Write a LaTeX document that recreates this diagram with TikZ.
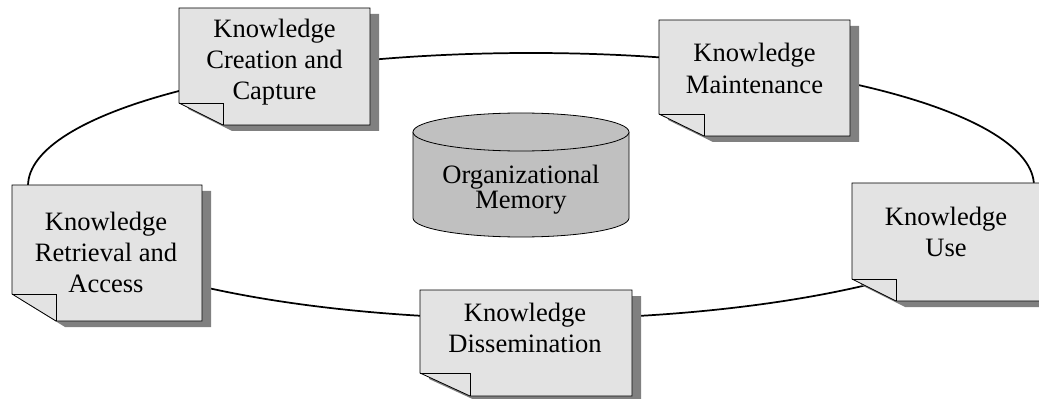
\documentclass[tikz,border=0pt]{standalone}
\usepackage{fontspec}
\setmainfont{Liberation Serif}
\usepackage{tikz}
\usepackage{amsmath}

\definecolor{sheetfill}{HTML}{E3E3E3}
\definecolor{sheetshade}{HTML}{808080}
\definecolor{drumfill}{HTML}{C0C0C0}

\tikzset{
  card/.style={align=center, inner sep=0pt, font=\fontsize{19.9}{23.4}\selectfont},
  sheet/.style={fill=sheetfill, draw=black, line width=0.6pt},
  ring/.style={draw=black, line width=1.3pt}
}

% left, top, right, bottom, fold width, fold height
\newcommand{\sheetbox}[6]{
  \fill[sheetshade] (#1+9,#2+6) -- (#3+9,#2+6) -- (#3+9,#4+6) -- (#1+#5+9,#4+6) -- (#1+9,#4-#6+6) -- cycle;
  \path[sheet] (#1,#2) -- (#3,#2) -- (#3,#4) -- (#1+#5,#4) -- (#1,#4-#6) -- cycle;
  \draw[line width=0.6pt] (#1,#4-#6) -- (#1+#5,#4-#6) -- (#1+#5,#4);
}

\begin{document}
\begin{tikzpicture}[x=0.75pt, y=-0.75pt]
        \useasboundingbox (0,0) rectangle (1039,399);
        \coordinate (O) at (531,186);
        \draw[ring] (O) ellipse [x radius=503, y radius=133];
        \sheetbox{179}{8}{370}{125}{44}{22}
        \sheetbox{659}{20}{850}{136}{45}{22}
        \sheetbox{12}{185}{202}{321}{44}{27}
        \sheetbox{852}{183}{1042}{301}{44}{22}
        \sheetbox{420}{290}{632}{396}{50}{23}
        \fill[drumfill] (413,132) -- (413,218) arc [start angle=180, end angle=0, x radius=108, y radius=19] -- (629,132) -- cycle;
        \draw[line width=0.6pt] (413,132) -- (413,218) arc [start angle=180, end angle=0, x radius=108, y radius=19] -- (629,132);
        \filldraw[fill=drumfill, line width=0.6pt] (521,132) ellipse [x radius=108, y radius=19];
        \node[card] (A) at (274.5,62.3) {Knowledge\\Creation and\\Capture};
        \node[card] (B) at (754.5,68.4) {Knowledge\\Maintenance};
        \node[card] (C) at (106,252.4) {Knowledge\\Retrieval and\\Access};
        \node[card] (D) at (946,231.9) {Knowledge\\Use};
        \node[card] (E) at (525,327.9) {Knowledge\\Dissemination};
        \node[card, font=\fontsize{19.9}{18.8}\selectfont] (F) at (521,189.3) {Organizational\\Memory};
\end{tikzpicture}
\end{document}
